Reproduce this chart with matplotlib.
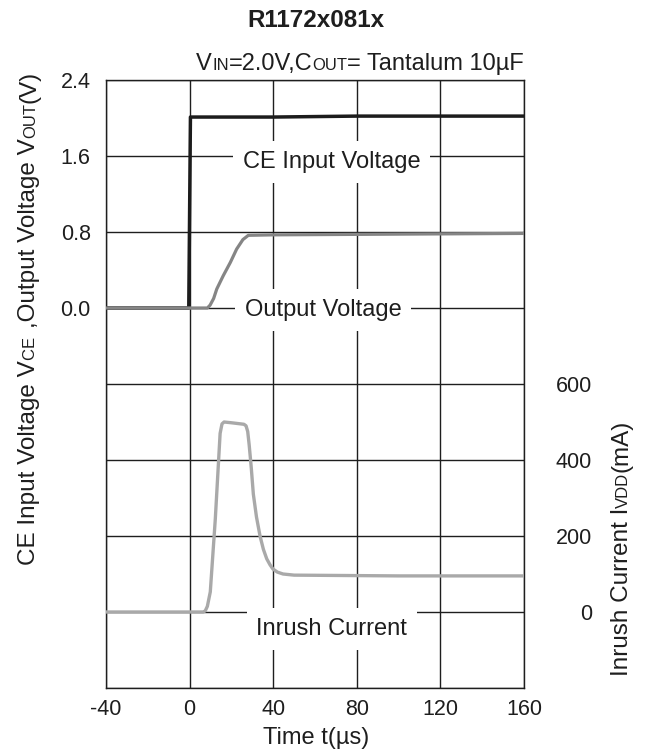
import matplotlib
matplotlib.use('Agg')
import matplotlib.pyplot as plt
from matplotlib.font_manager import FontProperties
from matplotlib.transforms import IdentityTransform

FONT = 'Liberation Sans'
plt.rcParams['font.family'] = [FONT, 'DejaVu Sans']
plt.rcParams['axes.unicode_minus'] = False
TXT = '#1e1e1e'

# CE input voltage (V) vs time (us)
ce_t = [-40, -0.4, 0.4, 40, 80, 120, 160]
ce_v = [0.0, 0.0, 2.01, 2.01, 2.02, 2.02, 2.02]

# output voltage (V)
out_t = [-40, 8.5, 9.8, 11.5, 13, 16.1, 19.5, 22.5, 25.5, 28.1, 40, 80, 120, 160]
out_v = [0.0, 0.0, 0.03, 0.1, 0.2, 0.34, 0.48, 0.62, 0.72, 0.765, 0.77, 0.775, 0.78, 0.785]

# inrush current (mA)
inr_t = [-40, 6.5, 7.5, 8.5, 9.9, 12.3, 14.6, 15.5, 16.5, 20, 26, 27, 27.8,
         28.5, 29.5, 30.5, 32, 33.7, 35.3, 36.9, 38.5, 39.9, 42, 44.7, 50,
         100, 160]
inr_i = [0, 0, 3, 15, 53, 245, 470, 495, 500, 498, 494, 490, 475,
         440, 380, 310, 250, 200, 165, 140, 124, 113, 105, 100, 97,
         95, 95]

x_ticks = [-40, 0, 40, 80, 120, 160]
v_grid = [2.4, 1.6, 0.8, 0.0, -0.8, -1.6, -2.4, -3.2, -4.0]
v_labels = ['2.4', '1.6', '0.8', '0.0', '', '', '', '', '']
i_ticks = [0, 200, 400, 600]

W, H = 646, 756
fig = plt.figure(figsize=(W / 100, H / 100), dpi=100)
ax = fig.add_axes([106 / W, 68 / H, 418 / W, 608 / H])

ax.plot(ce_t, ce_v, color='#1c1c1c', lw=2.5, zorder=3)
ax.plot(out_t, out_v, color='#858585', lw=2.3, zorder=3)
ax.set_xlim(-40, 160)
ax.set_ylim(-4.0, 2.4)
ax.set_xticks(x_ticks)
ax.set_yticks(v_grid)
ax.set_yticklabels(v_labels)
ax.tick_params(length=0, labelsize=15.5, colors=TXT)
ax.tick_params(axis='y', pad=11)
ax.tick_params(axis='x', pad=8)
ax.grid(color='#1e1e1e', lw=1.0)
for s in ax.spines.values():
    s.set_color('#1e1e1e')
    s.set_linewidth(1.0)

ax2 = ax.twinx()
ax2.plot(inr_t, inr_i, color='#a9a9a9', lw=2.4, zorder=3)
ax2.set_ylim(-200, 1400)
ax2.set_yticks(i_ticks)
ax2.tick_params(length=0, labelsize=15.5, colors=TXT, pad=49)
for lbl in ax2.get_yticklabels():
    lbl.set_ha('right')
for s in ax2.spines.values():
    s.set_visible(False)

box = dict(facecolor='white', edgecolor='none', pad=7)
ax2.text(68, 1184, 'CE Input Voltage', fontsize=17, color=TXT,
         ha='center', va='center', bbox=box, zorder=5)
ax2.text(64, 795, 'Output Voltage', fontsize=17, color=TXT,
         ha='center', va='center', bbox=box, zorder=5)
ax2.text(68, -45, 'Inrush Current', fontsize=17, color=TXT,
         ha='center', va='center', bbox=box, zorder=5)

renderer = fig.canvas.get_renderer()


def rich(x, y, pieces, rotation=0, ha='center'):
    # x, y in pixels from the top left, y is the baseline
    widths = []
    for s, size in pieces:
        w = renderer.get_text_width_height_descent(
            s, FontProperties(family=FONT, size=size), ismath=False)[0]
        if s.endswith(' '):
            w += 0.278 * size * 100 / 72
        widths.append(w)
    total = sum(widths)
    pos = {'center': -total / 2, 'right': -total, 'left': 0}[ha]
    dx, dy = (1, 0) if rotation == 0 else (0, 1)
    for (s, size), w in zip(pieces, widths):
        fig.text(x + dx * pos, (H - y) + dy * pos, s, fontsize=size,
                 rotation=rotation, rotation_mode='anchor', ha='left',
                 va='baseline', color=TXT, transform=IdentityTransform())
        pos += w


fig.text(316 / W, 1 - 27 / H, 'R1172x081x', fontsize=17.5, fontweight='bold',
         color=TXT, ha='center', va='baseline')
rich(524, 70, [('V', 17), ('IN', 12), ('=2.0V,C', 17), ('OUT', 12),
               ('= Tantalum 10\u00b5F', 17)], ha='right')
rich(35, 318, [('CE Input Voltage V', 17.5), ('CE ', 12), (',Output Voltage V', 17.5),
               ('OUT', 12), ('(V)', 17.5)], rotation=90)
rich(628, 548, [('Inrush Current I', 17.5), ('VDD', 12), ('(mA)', 17.5)], rotation=90)
fig.text(316 / W, 1 - 738 / H, 'Time t(\u00b5s)', fontsize=17, color=TXT,
         ha='center', va='center')

fig.savefig('out.png', dpi=100, facecolor='white')
